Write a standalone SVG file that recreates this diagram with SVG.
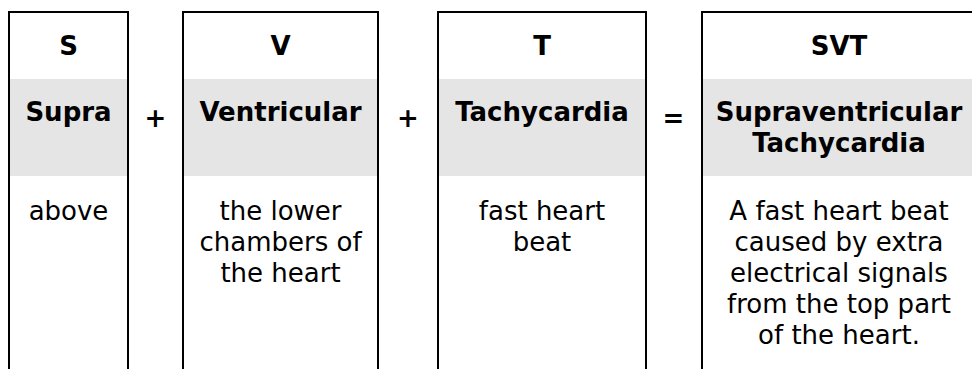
<svg xmlns="http://www.w3.org/2000/svg" width="972" height="369" viewBox="0 0 972 369">
<style>
.band{fill:#e5e5e5}
.frame{fill:none;stroke:#000;stroke-width:2}
.h{font-family:"DejaVu Sans",Verdana,sans-serif;font-weight:bold;font-size:26px;fill:#000;text-anchor:middle}
.t{font-family:"DejaVu Sans",Verdana,sans-serif;font-size:26px;fill:#000;text-anchor:middle}
.op{font-family:"DejaVu Sans",Verdana,sans-serif;font-weight:bold;font-size:26px;fill:#000;text-anchor:middle}
</style>
<g id="col-s">
<rect class="band" x="9" y="79" width="119" height="97"/>
<path class="frame" d="M9,369 V12 H128 V369"/>
<text class="h" x="68.5" y="55">S</text>
<text class="h" x="68.5" y="121">Supra</text>
<text class="t" x="68.5" y="220">above</text>
</g>
<g id="col-v">
<rect class="band" x="183" y="79" width="195" height="97"/>
<path class="frame" d="M183,369 V12 H378 V369"/>
<text class="h" x="280.5" y="55">V</text>
<text class="h" x="280.5" y="121">Ventricular</text>
<text class="t" x="280.5" y="220">the lower</text>
<text class="t" x="280.5" y="251">chambers of</text>
<text class="t" x="280.5" y="282">the heart</text>
</g>
<g id="col-t">
<rect class="band" x="438" y="79" width="208" height="97"/>
<path class="frame" d="M438,369 V12 H646 V369"/>
<text class="h" x="542" y="55">T</text>
<text class="h" x="542" y="121">Tachycardia</text>
<text class="t" x="542" y="220">fast heart</text>
<text class="t" x="542" y="251">beat</text>
</g>
<g id="col-svt">
<rect class="band" x="702" y="79" width="270" height="97"/>
<path class="frame" d="M702,369 V12 H972"/>
<text class="h" x="839" y="55">SVT</text>
<text class="h" x="839" y="121">Supraventricular</text>
<text class="h" x="839" y="152">Tachycardia</text>
<text class="t" x="839" y="220">A fast heart beat</text>
<text class="t" x="839" y="251">caused by extra</text>
<text class="t" x="839" y="282">electrical signals</text>
<text class="t" x="839" y="313">from the top part</text>
<text class="t" x="839" y="344">of the heart.</text>
</g>
<g id="connectors">
<text class="op" x="155.5" y="127">+</text>
<text class="op" x="408" y="127">+</text>
<text class="op" x="673.5" y="127">=</text>
</g>
</svg>
